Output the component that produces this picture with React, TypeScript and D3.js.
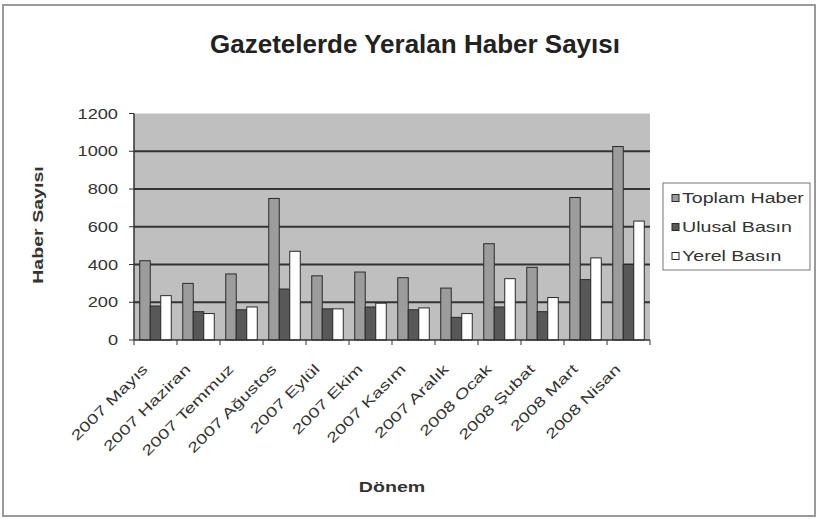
import React from 'react';
import * as d3 from 'd3';

const categories = [
  "2007 Mayıs", "2007 Haziran", "2007 Temmuz", "2007 Ağustos", "2007 Eylül", "2007 Ekim",
  "2007 Kasım", "2007 Aralık", "2008 Ocak", "2008 Şubat", "2008 Mart", "2008 Nisan"
];
const toplamHaber = [420, 300, 350, 750, 340, 360, 330, 275, 510, 385, 755, 1025];
const ulusalBasin = [180, 150, 160, 270, 165, 175, 160, 120, 175, 150, 320, 400];
const yerelBasin = [235, 140, 175, 470, 165, 195, 170, 140, 325, 225, 435, 630];
const seriesNames = ["Toplam Haber", "Ulusal Basın", "Yerel Basın"];
const yTicks = [0, 200, 400, 600, 800, 1000, 1200];

const title = "Gazetelerde Yeralan Haber Sayısı";
const yLabel = "Haber Sayısı";
const xLabel = "Dönem";

const W = 818;
const H = 519;
const plot = { left: 134, right: 650, top: 113.5, bottom: 340 };
const colors = ["#9c9c9c", "#585858", "#ffffff"];
const font = "'Liberation Sans', Arial, sans-serif";
const stretch = 1.4; // text in the picture is drawn wide

const App: React.FC = () => {
  const series = [toplamHaber, ulusalBasin, yerelBasin];

  const x = d3.scaleBand<string>()
    .domain(categories)
    .range([plot.left, plot.right])
    .paddingInner(0.267)
    .paddingOuter(0.1335);

  const xSub = d3.scaleBand<string>()
    .domain(seriesNames)
    .range([0, x.bandwidth()]);

  const y = d3.scaleLinear().domain([0, 1200]).range([plot.bottom, plot.top]);

  const step = x.step();

  return (
    <svg width={W} height={H} style={{ position: 'absolute', left: 0, top: 0, background: '#fff' }}>
      {/* outer frame */}
      <rect x={3} y={5} width={812} height={511} fill="#fff" stroke="#9a9a9a" strokeWidth={2} />

      {/* title */}
      <text x={415} y={53} textAnchor="middle" fontFamily={font} fontWeight="bold" fontSize={26} fill="#222">
        {title}
      </text>

      {/* plot area */}
      <rect x={plot.left} y={plot.top} width={plot.right - plot.left} height={plot.bottom - plot.top} fill="#bfbfbf" />
      {yTicks.filter(t => t > 0 && t < 1200).map(t => (
        <line key={t} x1={plot.left} x2={plot.right} y1={y(t)} y2={y(t)} stroke="#333" strokeWidth={2} />
      ))}

      {/* bars */}
      {categories.map((c, i) => (
        <g key={c} transform={`translate(${x(c)},0)`}>
          {series.map((s, j) => (
            <rect
              key={j}
              x={xSub(seriesNames[j])}
              y={y(s[i])}
              width={xSub.bandwidth()}
              height={y(0) - y(s[i])}
              fill={colors[j]}
              stroke="#2a2a2a"
              strokeWidth={1}
            />
          ))}
        </g>
      ))}

      {/* axes */}
      <line x1={plot.left} x2={plot.left} y1={plot.top} y2={plot.bottom} stroke="#333" strokeWidth={1.5} />
      <line x1={plot.left} x2={plot.right} y1={plot.bottom} y2={plot.bottom} stroke="#333" strokeWidth={1.5} />
      {yTicks.map(t => (
        <g key={t}>
          <line x1={plot.left - 5} x2={plot.left} y1={y(t)} y2={y(t)} stroke="#333" />
          <text
            transform={`translate(118,${y(t)}) scale(1.3,1)`}
            dy="0.36em"
            textAnchor="end"
            fontFamily={font}
            fontSize={14}
            fill="#333"
          >
            {t}
          </text>
        </g>
      ))}
      {d3.range(categories.length + 1).map(i => (
        <line key={i} x1={plot.left + i * step} x2={plot.left + i * step} y1={plot.bottom} y2={plot.bottom + 5} stroke="#333" />
      ))}
      {categories.map(c => (
        <text
          key={c}
          transform={`translate(${(x(c) ?? 0) + x.bandwidth() / 2 - 7},370) rotate(-45) scale(${stretch},1)`}
          textAnchor="end"
          fontFamily={font}
          fontSize={14}
          fill="#333"
        >
          {c}
        </text>
      ))}

      {/* axis titles */}
      <text
        transform={`translate(43,225) rotate(-90) scale(${stretch},1)`}
        textAnchor="middle"
        fontFamily={font}
        fontWeight="bold"
        fontSize={14}
        fill="#333"
      >
        {yLabel}
      </text>
      <text
        transform={`translate(392,492) scale(${stretch},1)`}
        textAnchor="middle"
        fontFamily={font}
        fontWeight="bold"
        fontSize={14}
        fill="#333"
      >
        {xLabel}
      </text>

      {/* legend */}
      <rect x={663} y={183} width={147} height={87} fill="#fff" stroke="#777" strokeWidth={1} />
      {seriesNames.map((n, j) => (
        <g key={n} transform={`translate(672,${198 + j * 29})`}>
          <rect x={0} y={-3.5} width={7} height={7} fill={colors[j]} stroke="#2a2a2a" />
          <text
            transform={`translate(10,0) scale(${stretch},1)`}
            dy="0.36em"
            fontFamily={font}
            fontSize={14}
            fill="#333"
          >
            {n}
          </text>
        </g>
      ))}
    </svg>
  );
};

export default App;
